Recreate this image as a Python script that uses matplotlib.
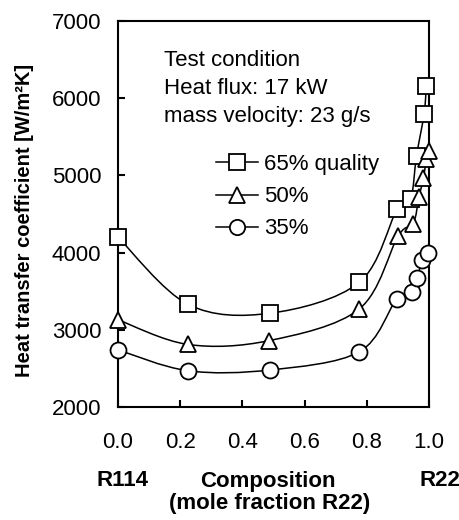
import numpy as np
import matplotlib
matplotlib.use('Agg')
import matplotlib.pyplot as plt
from matplotlib.path import Path
from matplotlib.patches import PathPatch
from matplotlib.lines import Line2D

plt.rcParams['font.family'] = ['Liberation Sans', 'DejaVu Sans']

# composition (mole fraction R22) and heat transfer coefficient [W/m2K]
x_65 = [0.0, 0.225, 0.489, 0.776, 0.898, 0.941, 0.960, 0.984, 0.992]
h_65 = [4200, 3330, 3215, 3615, 4565, 4690, 5250, 5790, 6160]
x_50 = [0.0, 0.225, 0.486, 0.776, 0.901, 0.949, 0.968, 0.982, 0.992, 1.0]
h_50 = [3130, 2810, 2860, 3270, 4215, 4370, 4725, 4960, 5210, 5320]
x_35 = [0.0, 0.225, 0.490, 0.776, 0.896, 0.946, 0.963, 0.978, 0.998]
h_35 = [2740, 2470, 2480, 2715, 3395, 3485, 3675, 3905, 3990]

labels = ['65% quality', '50%', '35%']
markers = ['s', '^', 'o']
xticks = [0.0, 0.2, 0.4, 0.6, 0.8, 1.0]
yticks = [2000, 3000, 4000, 5000, 6000, 7000]
note = ['Test condition', 'Heat flux: 17 kW', 'mass velocity: 23 g/s']


def smooth(ax, xs, ys):
    # catmull-rom through the points, drawn as cubic bezier
    p = np.column_stack([xs, ys]).astype(float)
    n = len(p)
    verts = [p[0]]
    codes = [Path.MOVETO]
    for i in range(n - 1):
        p0 = p[max(i - 1, 0)]
        p1 = p[i]
        p2 = p[i + 1]
        p3 = p[min(i + 2, n - 1)]
        verts += [p1 + (p2 - p0) / 6, p2 - (p3 - p1) / 6, p2]
        codes += [Path.CURVE4] * 3
    ax.add_patch(PathPatch(Path(verts, codes), fill=False, lw=1.1,
                           ec='black', zorder=2))


fig = plt.figure(figsize=(4.6, 5.2), dpi=100)
ax = fig.add_axes([0.2565, 0.2173, 0.676, 0.7423])

handles = []
for xs, ys, m, lab in zip([x_65, x_50, x_35], [h_65, h_50, h_35], markers, labels):
    smooth(ax, xs, ys)
    ax.plot(xs, ys, ls='none', marker=m, ms=11.5, mfc='white', mec='black',
            mew=1.3, zorder=3, clip_on=False)
    handles.append(Line2D([], [], color='black', lw=1.1, marker=m, ms=11,
                          mfc='white', mec='black', mew=1.3, label=lab))

ax.set_xlim(0, 1.0)
ax.set_ylim(2000, 7000)
ax.set_xticks(xticks)
ax.set_xticklabels(['%.1f' % t for t in xticks])
ax.set_yticks(yticks)
for s in ax.spines.values():
    s.set_linewidth(1.5)
ax.tick_params(direction='in', length=5, width=1.5, labelsize=16)
ax.tick_params(axis='x', pad=18)
ax.tick_params(axis='y', pad=12)

ax.set_ylabel('Heat transfer coefficient [W/m²K]', fontsize=14.5,
              fontweight='bold')
ax.yaxis.set_label_coords(-0.27, 0.484)

for y, line in zip([0.883, 0.811, 0.738], note):
    ax.text(0.148, y, line, transform=ax.transAxes, fontsize=16,
            va='baseline', ha='left')

ax.legend(handles=handles, loc='upper left', bbox_to_anchor=(0.315, 0.655),
          frameon=False, fontsize=16, handlelength=1.9, handletextpad=0.27,
          labelspacing=0.5, borderpad=0, borderaxespad=0)

fig.text(123 / 460, 1 - 481 / 520, 'R114', ha='center', va='center',
         fontsize=16, fontweight='bold')
fig.text(268 / 460, 1 - 481 / 520, 'Composition', ha='center', va='center',
         fontsize=16, fontweight='bold')
fig.text(440 / 460, 1 - 481 / 520, 'R22', ha='center', va='center',
         fontsize=16, fontweight='bold')
fig.text(270 / 460, 1 - 504 / 520, '(mole fraction R22)', ha='center',
         va='center', fontsize=16, fontweight='bold')

fig.savefig('out.png', dpi=100)
